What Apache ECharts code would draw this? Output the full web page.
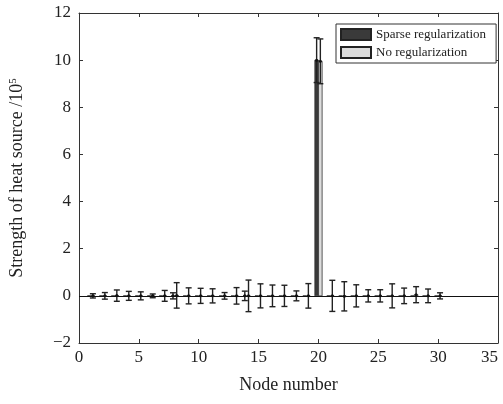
<!DOCTYPE html>
<html>
<head>
<meta charset="utf-8">
<script src="https://cdn.jsdelivr.net/npm/echarts@6/dist/echarts.min.js"></script>
<style>
  html, body { margin: 0; padding: 0; background: #fff; }
  #chart { width: 503px; height: 404px; }
</style>
</head>
<body>
<div id="chart"></div>
<script>
// node numbers
const nodes = [1, 2, 3, 4, 5, 6, 7, 8, 9, 10, 11, 12, 13, 14, 15, 16, 17, 18, 19, 20, 21, 22, 23, 24, 25, 26, 27, 28, 29, 30]
// sparse regularization: only node 20 is really non-zero
const sparseVal = [0, 0, 0, 0, 0, 0, 0, 0, 0, 0, 0, 0, 0, 0, 0, 0, 0, 0, 0, 10.0, 0, 0, 0, 0, 0, 0, 0, 0, 0, 0]
const sparseErr = [0, 0, 0, 0, 0, 0, 0, 0.13, 0, 0, 0, 0, 0, 0.2, 0, 0, 0, 0, 0, 0.95, 0, 0, 0, 0, 0, 0, 0, 0, 0, 0]
// no regularization
const noRegVal = [0, 0, 0.01, 0, 0, 0, 0, 0.02, 0, 0, 0, 0, 0, 0, 0, 0, 0, 0, 0, 9.95, 0, -0.02, 0, 0, 0, 0, 0, 0.05, 0, 0]
const noRegErr = [0.09, 0.14, 0.24, 0.19, 0.17, 0.08, 0.23, 0.54, 0.34, 0.32, 0.3, 0.14, 0.35, 0.67, 0.51, 0.46, 0.45, 0.21, 0.52, 0.95, 0.66, 0.62, 0.47, 0.26, 0.26, 0.51, 0.33, 0.34, 0.29, 0.13]
const xTicks = [0, 35, 5]
const yTicks = [-2, 12, 2]

const FONT = 'Liberation Serif'
const BW = 0.3 // bar width in node units

function barItem(offset) {
  return function (params, api) {
    const x = api.value(0) + offset
    const v = api.value(1)
    const p1 = api.coord([x - BW / 2, v])
    const p2 = api.coord([x + BW / 2, 0])
    return {
      type: 'rect',
      shape: {
        x: p1[0],
        y: Math.min(p1[1], p2[1]),
        width: p2[0] - p1[0],
        height: Math.abs(p2[1] - p1[1]),
      },
      style: { fill: api.visual('color'), stroke: '#333', lineWidth: 0.8 },
    }
  }
}

function errItem(offset) {
  return function (params, api) {
    const e = api.value(2)
    if (!e) return null
    const x = api.value(0) + offset
    const v = api.value(1)
    const c = api.coord([x, v])
    const t = api.coord([x, v + e])
    const b = api.coord([x, v - e])
    const cap = 3
    const st = { stroke: '#222', lineWidth: 1.4 }
    return {
      type: 'group',
      children: [
        { type: 'line', shape: { x1: c[0], y1: t[1], x2: c[0], y2: b[1] }, style: st },
        { type: 'line', shape: { x1: c[0] - cap, y1: t[1], x2: c[0] + cap, y2: t[1] }, style: st },
        { type: 'line', shape: { x1: c[0] - cap, y1: b[1], x2: c[0] + cap, y2: b[1] }, style: st },
        { type: 'circle', shape: { cx: c[0], cy: c[1], r: 1.5 }, style: { fill: '#111' } },
      ],
    }
  }
}

const sparseData = nodes.map((n, i) => [n, sparseVal[i], sparseErr[i]])
const noRegData = nodes.map((n, i) => [n, noRegVal[i], noRegErr[i]])

const axisLine = { show: true, onZero: false, lineStyle: { color: '#333', width: 1 } }
const axisTick = { inside: true, length: 4, lineStyle: { color: '#333' } }
const labelStyle = { fontFamily: FONT, fontSize: 17, color: '#222' }

const option = {
  animation: false,
  grid: { left: 76, right: 5, top: 13, bottom: 61 },
  legend: {
    orient: 'vertical',
    left: 336,
    top: 24,
    itemWidth: 30,
    itemHeight: 11,
    itemGap: 5,
    padding: [4, 10, 4, 4],
    borderColor: '#333',
    borderWidth: 1,
    backgroundColor: '#fff',
    icon: 'rect',
    textStyle: { fontFamily: FONT, fontSize: 13, color: '#222' },
    data: ['Sparse regularization', 'No regularization'],
  },
  xAxis: [
    {
      type: 'value',
      min: xTicks[0],
      max: xTicks[1],
      interval: xTicks[2],
      name: 'Node number',
      nameLocation: 'middle',
      nameGap: 33,
      nameTextStyle: { fontFamily: FONT, fontSize: 18, color: '#222' },
      axisLine,
      axisTick,
      splitLine: { show: false },
      axisLabel: Object.assign({ margin: 6, alignMaxLabel: 'right' }, labelStyle),
    },
    {
      type: 'value',
      position: 'top',
      min: xTicks[0],
      max: xTicks[1],
      interval: xTicks[2],
      axisLine,
      axisTick,
      axisLabel: { show: false },
      splitLine: { show: false },
    },
  ],
  yAxis: [
    {
      type: 'value',
      min: yTicks[0],
      max: yTicks[1],
      interval: yTicks[2],
      name: 'Strength of heat source /10{s|5}',
      nameLocation: 'middle',
      nameGap: 52,
      nameTextStyle: {
        fontFamily: FONT,
        fontSize: 18,
        color: '#222',
        rich: { s: { fontFamily: FONT, fontSize: 11, color: '#222', padding: [0, 0, 8, 0] } },
      },
      axisLine,
      axisTick,
      splitLine: { show: false },
      axisLabel: Object.assign(
        { margin: 8, formatter: (v) => String(v).replace('-', '\u2212') },
        labelStyle
      ),
    },
    {
      type: 'value',
      position: 'right',
      min: yTicks[0],
      max: yTicks[1],
      interval: yTicks[2],
      axisLine,
      axisTick,
      axisLabel: { show: false },
      splitLine: { show: false },
    },
  ],
  series: [
    {
      name: 'Sparse regularization',
      type: 'custom',
      renderItem: barItem(-0.15),
      itemStyle: { color: '#3a3a3a', borderColor: '#222', borderWidth: 1 },
      data: sparseData,
      z: 2,
    },
    {
      name: 'No regularization',
      type: 'custom',
      renderItem: barItem(0.16),
      itemStyle: { color: '#dcdcdc', borderColor: '#222', borderWidth: 1 },
      data: noRegData,
      z: 2,
      markLine: {
        silent: true,
        symbol: 'none',
        label: { show: false },
        lineStyle: { color: '#111', type: 'solid', width: 1 },
        data: [{ yAxis: 0 }],
      },
    },
    {
      name: 'sparseErr',
      type: 'custom',
      renderItem: errItem(-0.15),
      data: sparseData,
      z: 3,
    },
    {
      name: 'noRegErr',
      type: 'custom',
      renderItem: errItem(0.16),
      data: noRegData,
      z: 3,
    },
  ],
}

const chart = echarts.init(document.getElementById('chart'))
chart.setOption(option)
</script>
</body>
</html>
